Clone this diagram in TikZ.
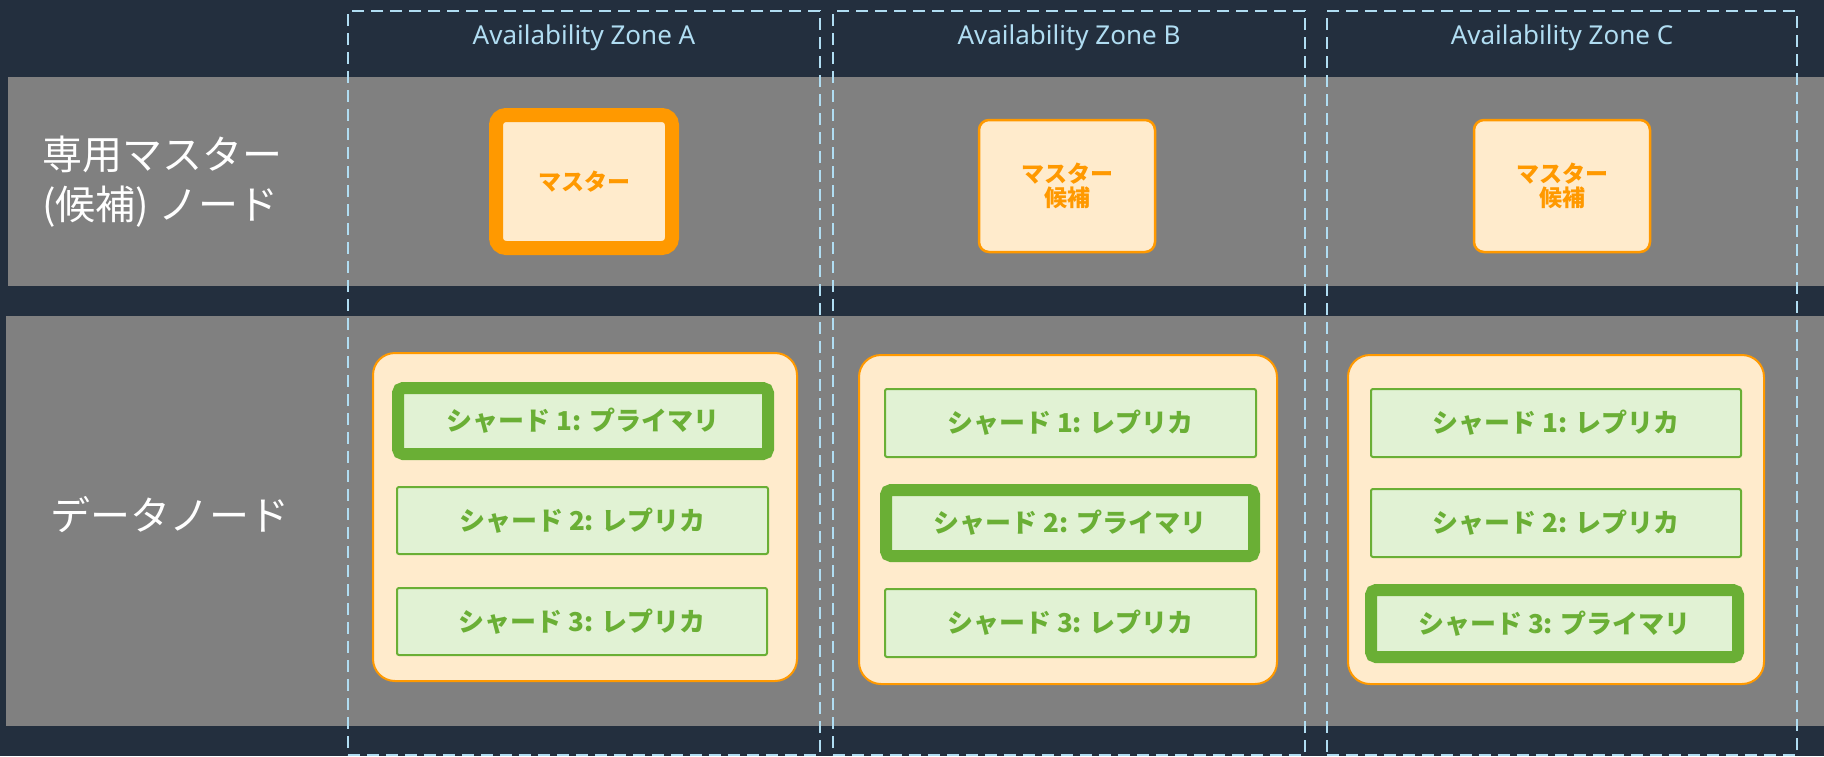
\documentclass[tikz,border=0pt]{standalone}
\usepackage{fontspec}
\setmainfont{Noto Sans CJK JP}
\newfontfamily\latinfont{Noto Sans}
\definecolor{ink}{HTML}{232F3E}
\definecolor{band}{HTML}{808080}
\definecolor{org}{HTML}{FF9900}
\definecolor{orgfill}{HTML}{FFEBCC}
\definecolor{grn}{HTML}{6AAF35}
\definecolor{grnfill}{HTML}{E1F2D4}
\definecolor{zoneline}{HTML}{B0DDF2}
\tikzset{
  zone/.style={draw=zoneline, line width=2.4pt, dash pattern=on 12pt off 7pt, minimum height=744pt, inner sep=0pt},
  zonetitle/.style={text=zoneline, font=\latinfont\fontsize{26}{30}\selectfont},
  rowlabel/.style={text=white, font=\fontsize{40}{50}\selectfont, align=left, anchor=west, inner sep=0pt},
  mastersel/.style={draw=org, fill=orgfill, line width=14pt, rounded corners=10pt, minimum width=176pt, minimum height=133pt, inner sep=0pt, text=org, font=\bfseries\fontsize{23}{28}\selectfont},
  mastercand/.style={draw=org, fill=orgfill, line width=2.5pt, rounded corners=10pt, minimum width=176pt, minimum height=132pt, inner sep=0pt, text=org, font=\bfseries\fontsize{23}{28}\selectfont, align=center},
  datanode/.style={draw=org, fill=orgfill, line width=2pt, rounded corners=22pt, minimum height=328pt, inner sep=0pt},
  primary/.style={draw=grn, fill=grnfill, line width=12pt, rounded corners=5pt, minimum width=370pt, minimum height=66pt, inner sep=0pt, text=grn, font=\bfseries\fontsize{26}{30}\selectfont},
  replica/.style={draw=grn, fill=grnfill, line width=2pt, rounded corners=2pt, minimum width=370pt, minimum height=67pt, inner sep=0pt, text=grn, font=\bfseries\fontsize{26}{30}\selectfont}
}
\begin{document}
\begin{tikzpicture}[x=1pt,y=-1pt]
\fill[ink] (0,0) rectangle (1824,756);
\useasboundingbox (0,0) rectangle (1824,756);
\fill[band] (8,77) rectangle (1824,286);
\fill[band] (6,316) rectangle (1824,726);

% zones
\node[zone, minimum width=472pt] (zoneA) at (584,383) {};
\node[zone, minimum width=472pt] (zoneB) at (1069,383) {};
\node[zone, minimum width=470pt] (zoneC) at (1562,383) {};
\node[zonetitle] (titleA) at (584,38) {Availability Zone A};
\node[zonetitle] (titleB) at (1069,38) {Availability Zone B};
\node[zonetitle] (titleC) at (1562,38) {Availability Zone C};

% row labels
\node[rowlabel] (lblmaster) at (42,182) {専用マスター\\(候補) ノード};
\node[rowlabel] (lbldata) at (50,515) {データノード};

% master nodes
\node[mastersel] (mA) at (584,181.5) {マスター};
\node[mastercand] (mB) at (1067,186) {マスター\\[-4pt]候補};
\node[mastercand] (mC) at (1562,186) {マスター\\[-4pt]候補};

% data node containers
\node[datanode, minimum width=424pt] (dA) at (585,517) {};
\node[datanode, minimum width=418pt, minimum height=329pt] (dB) at (1068,519.5) {};
\node[datanode, minimum width=416pt, minimum height=329pt] (dC) at (1556,519.5) {};

% shards zone A
\node[primary] (a1) at (583,421) {シャード 1: プライマリ};
\node[replica, minimum width=371pt] (a2) at (582.5,520.5) {シャード 2: レプリカ};
\node[replica] (a3) at (582,621.5) {シャード 3: レプリカ};

% shards zone B
\node[replica, minimum width=371pt, minimum height=68pt] (b1) at (1070.5,423) {シャード 1: レプリカ};
\node[primary, minimum width=368pt, minimum height=66pt] (b2) at (1070,523) {シャード 2: プライマリ};
\node[replica, minimum width=371pt, minimum height=68pt] (b3) at (1070.5,623) {シャード 3: レプリカ};

% shards zone C
\node[replica, minimum height=68pt] (c1) at (1556,423) {シャード 1: レプリカ};
\node[replica, minimum height=68pt] (c2) at (1556,523) {シャード 2: レプリカ};
\node[primary, minimum width=367pt, minimum height=67pt] (c3) at (1554.5,623.5) {シャード 3: プライマリ};
\end{tikzpicture}
\end{document}
